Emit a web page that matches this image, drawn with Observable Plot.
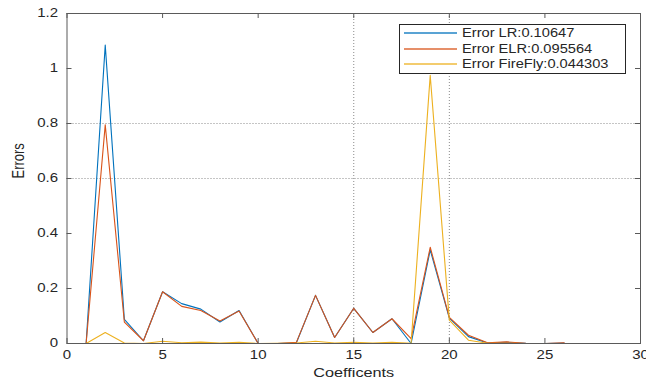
<!DOCTYPE html>
<html><head><meta charset="utf-8">
<script src="https://cdn.jsdelivr.net/npm/d3@7"></script>
<script src="https://cdn.jsdelivr.net/npm/@observablehq/plot@0.6"></script>
<style>
html,body{margin:0;padding:0;background:#fff;}
#wrap{position:relative;width:646px;height:386px;font-family:"Liberation Sans",Arial,sans-serif;}
#legend{position:absolute;left:399px;top:24px;width:227px;height:50px;border:1px solid #262626;background:#fff;box-sizing:border-box;}
.item{position:absolute;left:4px;height:14px;width:220px;}
.sw{position:absolute;left:0;top:6px;width:53px;height:2px;opacity:0.65;}
.lab{position:absolute;left:58px;top:0;line-height:14px;font-size:12px;color:#262626;transform:scaleX(1.22);transform-origin:left center;white-space:nowrap;}
</style></head>
<body><div id="wrap"></div>
<script>
const coeffs = [1,2,3,4,5,6,7,8,9,10,11,12,13,14,15,16,17,18,19,20,21,22,23,24,25,26];
const errLR  = [0,1.085,0.088,0.010,0.188,0.145,0.125,0.078,0.120,0,0,0.003,0.175,0.022,0.128,0.040,0.090,0.000,0.340,0.092,0.025,0.002,0.004,0.001,0,0.002];
const errELR = [0,0.795,0.078,0.010,0.188,0.135,0.120,0.082,0.118,0,0,0.004,0.175,0.022,0.128,0.040,0.090,0.018,0.350,0.095,0.030,0.003,0.006,0.001,0,0.003];
const errFF  = [0,0.040,0.002,0.000,0.008,0.003,0.005,0.002,0.004,0,0.001,0.002,0.008,0.002,0.004,0.002,0.004,0.001,0.975,0.085,0.012,0.001,0.001,0,0,0];
const seriesNames = ["Error LR:0.10647","Error ELR:0.095564","Error FireFly:0.044303"];
const seriesColors = ["#0072BD","#D95319","#EDB120"];
const xTicks = [0,5,10,15,20,25,30];
const yTicks = [0,0.2,0.4,0.6,0.8,1,1.2];
const xGrid = [15,20];
const yGrid = [0.6,0.8];
const xLabel = "Coefficents";
const yLabel = "Errors";

const W=646,H=386,mL=66.5,mR=6,mT=13,mB=43;
const pW=W-mL-mR, pH=H-mT-mB;
const seriesVals=[errLR,errELR,errFF];
const rows=[];
seriesNames.forEach((s,i)=>coeffs.forEach((c,j)=>rows.push({series:s,x:c,y:seriesVals[i][j]})));

const chart = Plot.plot({
  width:W,height:H,marginLeft:mL,marginRight:mR,marginTop:mT,marginBottom:mB,
  style:{fontFamily:"Liberation Sans, Arial, sans-serif",fontSize:"12px",color:"#262626",background:"#fff",overflow:"visible"},
  x:{domain:[0,30]},
  y:{domain:[0,1.2]},
  color:{domain:seriesNames,range:seriesColors},
  marks:[
    Plot.ruleX(xGrid,{x:d=>d,stroke:"#8a8a8a",strokeDasharray:"1,2",strokeWidth:1}),
    Plot.ruleY(yGrid,{y:d=>d,stroke:"#8a8a8a",strokeDasharray:"1,2",strokeWidth:1}),
    Plot.lineY(rows,{x:"x",y:"y",stroke:"series",strokeWidth:1.1}),
    Plot.frame({stroke:"#5a5a5a"}),
    Plot.tickX(xTicks,{x:d=>d,insetTop:pH-5,stroke:"#5a5a5a"}),
    Plot.tickX(xTicks,{x:d=>d,insetBottom:pH-5,stroke:"#5a5a5a"}),
    Plot.tickY(yTicks,{y:d=>d,insetRight:pW-5,stroke:"#5a5a5a"}),
    Plot.tickY(yTicks,{y:d=>d,insetLeft:pW-5,stroke:"#5a5a5a"}),
    Plot.axisX({ticks:xTicks,tickSize:0,tickPadding:7,label:null,tickFormat:d=>String(d),fill:"#262626"}),
    Plot.axisY({ticks:yTicks,tickSize:0,tickPadding:9,label:null,tickFormat:d=>String(d),fill:"#262626"}),
    Plot.text([xLabel],{frameAnchor:"bottom",dy:33,text:d=>d,fontSize:13,fill:"#262626",ariaLabel:"xlabel"}),
    Plot.text([yLabel],{frameAnchor:"left",dx:-48.5,rotate:-90,text:d=>d,fontSize:13,fill:"#262626",ariaLabel:"ylabel"})
  ]
});

// widen text horizontally like the reference rendering
chart.querySelectorAll("text").forEach(t=>{
  const tr=t.getAttribute("transform");
  if(!tr) return;
  const g=t.closest("g[aria-label]");
  const lab=g?g.getAttribute("aria-label"):"";
  const k=(lab==="xlabel"||lab==="ylabel")?1.38:1.25;
  t.setAttribute("transform", tr + (tr.includes("rotate")?` scale(1,${k})`:` scale(${k},1)`));
});

const wrap=document.getElementById("wrap");
wrap.appendChild(chart);
const leg=document.createElement("div");
leg.id="legend";
const rowTops=[1,17,32];
seriesNames.forEach((s,i)=>{
  const it=document.createElement("div");
  it.className="item";
  it.style.top=rowTops[i]+"px";
  const sw=document.createElement("div");
  sw.className="sw";
  sw.style.background=seriesColors[i];
  const lb=document.createElement("div");
  lb.className="lab";
  lb.textContent=s;
  it.appendChild(sw);it.appendChild(lb);
  leg.appendChild(it);
});
wrap.appendChild(leg);
</script>
</body></html>
